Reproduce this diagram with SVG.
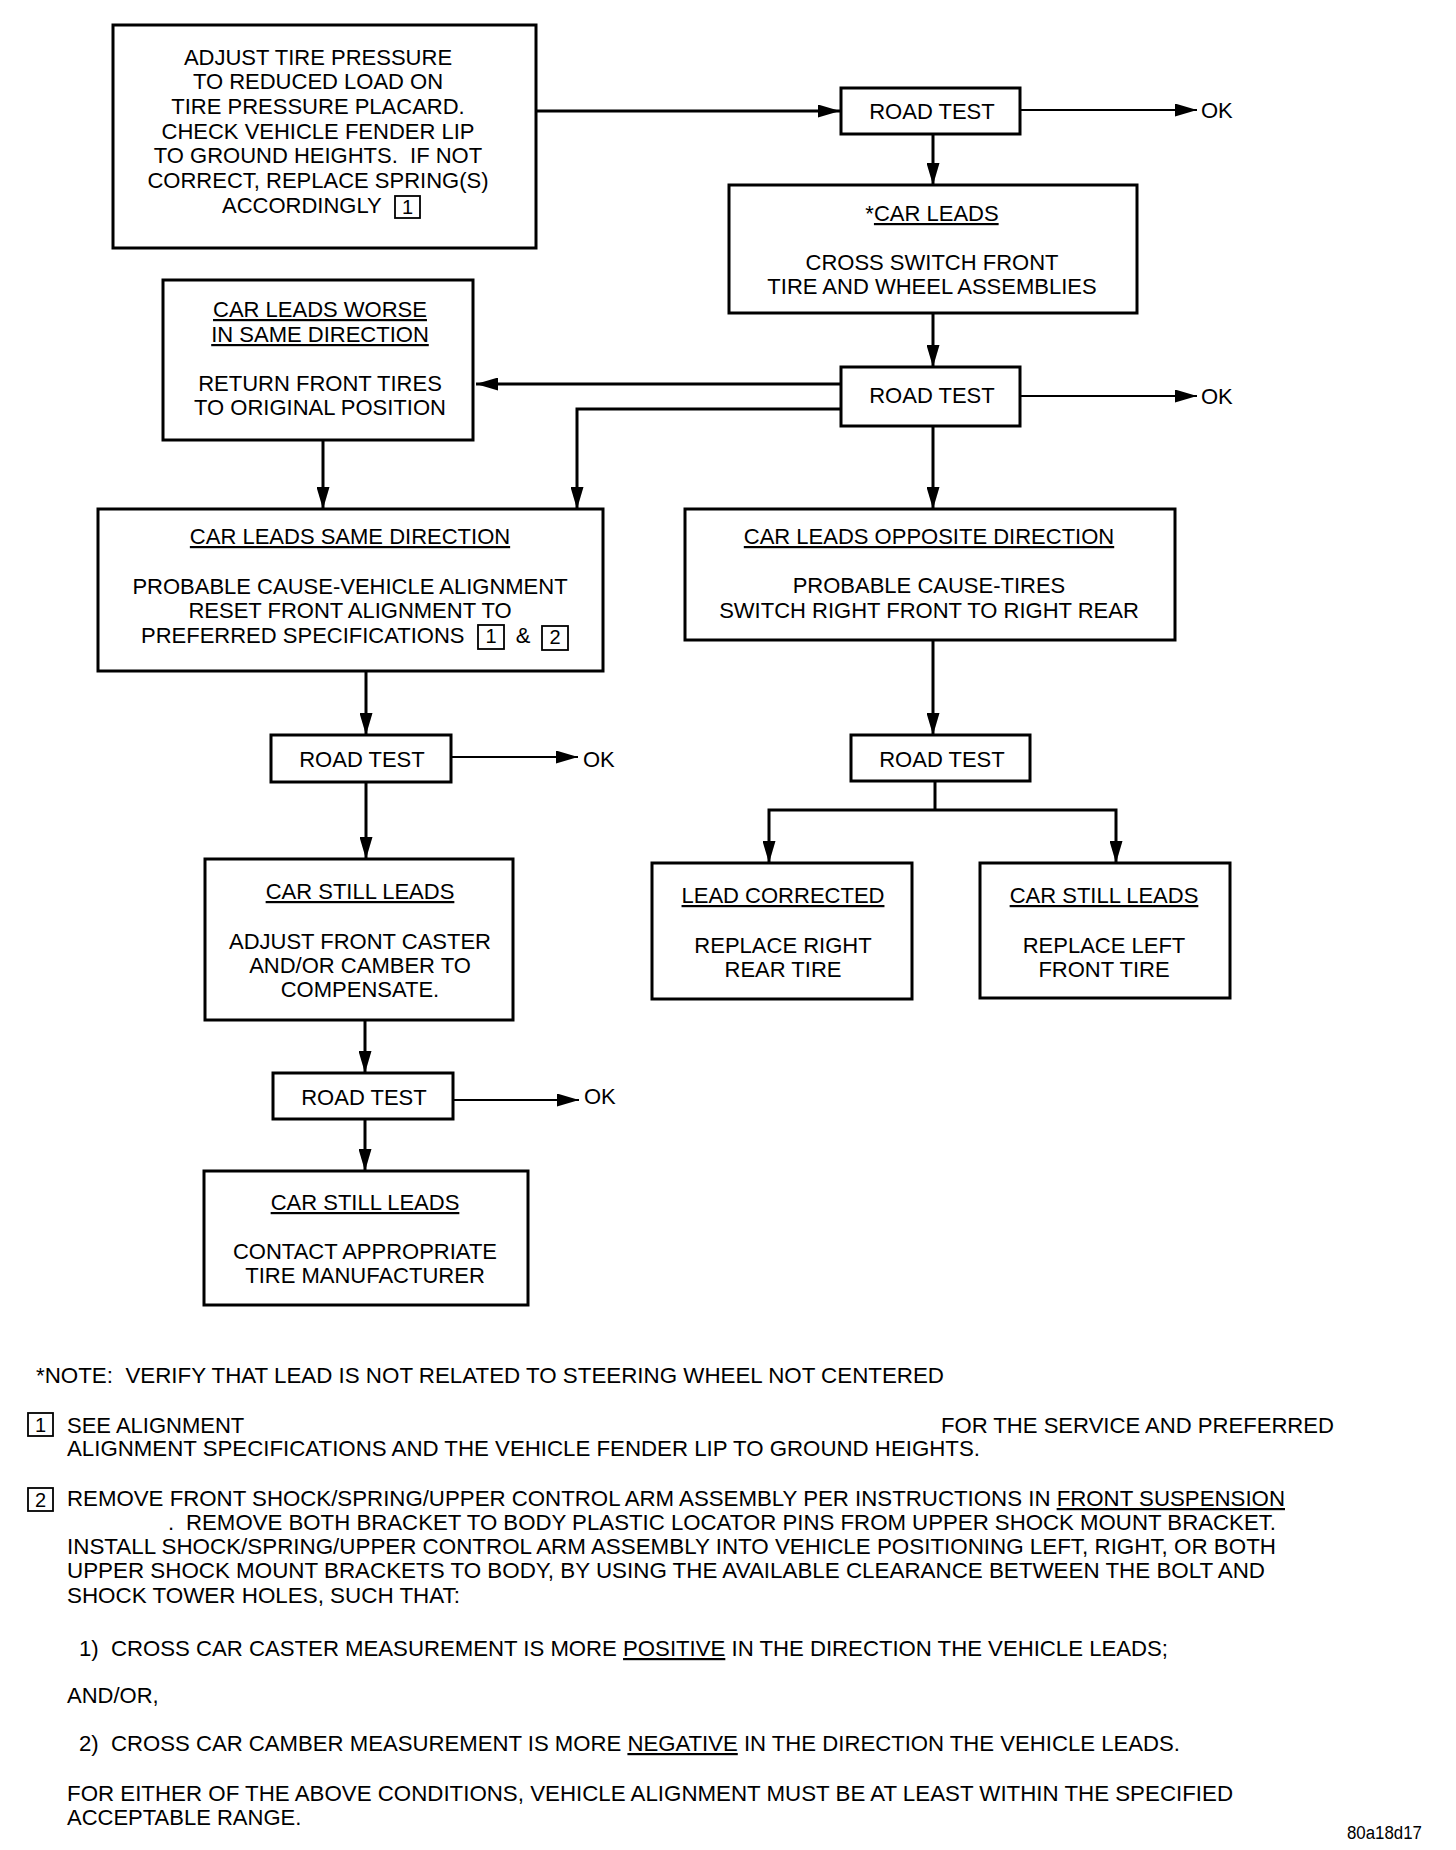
<svg xmlns="http://www.w3.org/2000/svg" width="1456" height="1850" viewBox="0 0 1456 1850">
<style>
  text { font-family: "Liberation Sans", Arial, Helvetica, sans-serif; font-size: 22px; fill: #000; }
  .c { text-anchor: middle; }
  .u { text-decoration: underline; }
  .box { fill: #fff; stroke: #000; stroke-width: 3; }
  .ref { fill: none; stroke: #000; stroke-width: 1.8; }
  .dig { font-size: 20px; text-anchor: middle; }
  .con { fill: none; stroke: #000; stroke-width: 3; marker-end: url(#ah); }
  .con2 { fill: none; stroke: #000; stroke-width: 2.2; marker-end: url(#ah); }
  .ln { fill: none; stroke: #000; stroke-width: 3; }
  .tag { font-size: 18px; }
</style>
<defs>
  <marker id="ah" markerUnits="userSpaceOnUse" markerWidth="22" markerHeight="13" refX="22" refY="6.5" orient="auto">
    <path d="M0,0 L22,6.5 L0,13 Z" fill="#000"/>
  </marker>
</defs>
<rect x="0" y="0" width="1456" height="1850" fill="#fff"/>

<g id="connectors">
  <path class="con" d="M536,111 H840"/>
  <path class="con2" d="M1020,110 H1197"/>
  <path class="con" d="M933,134 V185"/>
  <path class="con" d="M933,313 V367"/>
  <path class="con2" d="M1020,396 H1197"/>
  <path class="con" d="M841,384 H476"/>
  <path class="con" d="M841,409 H577 V509"/>
  <path class="con" d="M323,440 V509"/>
  <path class="con" d="M933,426 V509"/>
  <path class="con" d="M366,671 V735"/>
  <path class="con2" d="M451,757 H578"/>
  <path class="con" d="M366,782 V859"/>
  <path class="con" d="M365,1020 V1073"/>
  <path class="con2" d="M453,1100 H579"/>
  <path class="con" d="M365,1119 V1171"/>
  <path class="con" d="M933,640 V735"/>
  <path class="ln" d="M935,781 V810"/>
  <path class="con" d="M935,810 H769 V863"/>
  <path class="con" d="M935,810 H1116 V863"/>
</g>

<g id="node-adjust">
  <rect class="box" x="113" y="25" width="423" height="223"/>
  <text class="c" x="318" y="65">ADJUST TIRE PRESSURE</text>
  <text class="c" x="318" y="89">TO REDUCED LOAD ON</text>
  <text class="c" x="318" y="114">TIRE PRESSURE PLACARD.</text>
  <text class="c" x="318" y="139">CHECK VEHICLE FENDER LIP</text>
  <text class="c" x="318" y="163" xml:space="preserve">TO GROUND HEIGHTS.  IF NOT</text>
  <text class="c" x="318" y="188">CORRECT, REPLACE SPRING(S)</text>
  <text x="222" y="213">ACCORDINGLY</text>
  <rect class="ref" x="395" y="196" width="25" height="22"/>
  <text class="dig" x="407.5" y="214">1</text>
</g>

<g id="node-roadtest1">
  <rect class="box" x="841" y="88" width="179" height="46"/>
  <text class="c" x="932" y="119">ROAD TEST</text>
  <text x="1201" y="118">OK</text>
</g>

<g id="node-carleads">
  <rect class="box" x="729" y="185" width="408" height="128"/>
  <text class="c" x="932" y="221">*<tspan class="u">CAR LEADS</tspan></text>
  <text class="c" x="932" y="270">CROSS SWITCH FRONT</text>
  <text class="c" x="932" y="294">TIRE AND WHEEL ASSEMBLIES</text>
</g>

<g id="node-roadtest2">
  <rect class="box" x="841" y="367" width="179" height="59"/>
  <text class="c" x="932" y="403">ROAD TEST</text>
  <text x="1201" y="404">OK</text>
</g>

<g id="node-worse">
  <rect class="box" x="163" y="280" width="310" height="160"/>
  <text class="c u" x="320" y="317">CAR LEADS WORSE</text>
  <text class="c u" x="320" y="342">IN SAME DIRECTION</text>
  <text class="c" x="320" y="391">RETURN FRONT TIRES</text>
  <text class="c" x="320" y="415">TO ORIGINAL POSITION</text>
</g>

<g id="node-same">
  <rect class="box" x="98" y="509" width="505" height="162"/>
  <text class="c u" x="350" y="544">CAR LEADS SAME DIRECTION</text>
  <text class="c" x="350" y="594">PROBABLE CAUSE-VEHICLE ALIGNMENT</text>
  <text class="c" x="350" y="618">RESET FRONT ALIGNMENT TO</text>
  <text x="141" y="643">PREFERRED SPECIFICATIONS</text>
  <rect class="ref" x="478" y="625" width="26" height="24"/>
  <text class="dig" x="491" y="643">1</text>
  <text class="c" x="523" y="643">&amp;</text>
  <rect class="ref" x="542" y="626" width="26" height="24"/>
  <text class="dig" x="555" y="644">2</text>
</g>

<g id="node-opposite">
  <rect class="box" x="685" y="509" width="490" height="131"/>
  <text class="c u" x="929" y="544">CAR LEADS OPPOSITE DIRECTION</text>
  <text class="c" x="929" y="593">PROBABLE CAUSE-TIRES</text>
  <text class="c" x="929" y="618">SWITCH RIGHT FRONT TO RIGHT REAR</text>
</g>

<g id="node-roadtest3">
  <rect class="box" x="271" y="735" width="180" height="47"/>
  <text class="c" x="362" y="767">ROAD TEST</text>
  <text x="583" y="767">OK</text>
</g>

<g id="node-roadtest5">
  <rect class="box" x="851" y="735" width="179" height="46"/>
  <text class="c" x="942" y="767">ROAD TEST</text>
</g>

<g id="node-caster">
  <rect class="box" x="205" y="859" width="308" height="161"/>
  <text class="c u" x="360" y="899">CAR STILL LEADS</text>
  <text class="c" x="360" y="949">ADJUST FRONT CASTER</text>
  <text class="c" x="360" y="973">AND/OR CAMBER TO</text>
  <text class="c" x="360" y="997">COMPENSATE.</text>
</g>

<g id="node-corrected">
  <rect class="box" x="652" y="863" width="260" height="136"/>
  <text class="c u" x="783" y="903">LEAD CORRECTED</text>
  <text class="c" x="783" y="953">REPLACE RIGHT</text>
  <text class="c" x="783" y="977">REAR TIRE</text>
</g>

<g id="node-leftfront">
  <rect class="box" x="980" y="863" width="250" height="135"/>
  <text class="c u" x="1104" y="903">CAR STILL LEADS</text>
  <text class="c" x="1104" y="953">REPLACE LEFT</text>
  <text class="c" x="1104" y="977">FRONT TIRE</text>
</g>

<g id="node-roadtest4">
  <rect class="box" x="273" y="1073" width="180" height="46"/>
  <text class="c" x="364" y="1105">ROAD TEST</text>
  <text x="584" y="1104">OK</text>
</g>

<g id="node-manufacturer">
  <rect class="box" x="204" y="1171" width="324" height="134"/>
  <text class="c u" x="365" y="1210">CAR STILL LEADS</text>
  <text class="c" x="365" y="1259">CONTACT APPROPRIATE</text>
  <text class="c" x="365" y="1283">TIRE MANUFACTURER</text>
</g>

<g id="notes">
  <text x="36" y="1383" xml:space="preserve" textLength="908" lengthAdjust="spacingAndGlyphs">*NOTE:  VERIFY THAT LEAD IS NOT RELATED TO STEERING WHEEL NOT CENTERED</text>
  <rect class="ref" x="28" y="1413" width="25" height="23"/>
  <text class="dig" x="40.5" y="1432">1</text>
  <text x="67" y="1433">SEE ALIGNMENT</text>
  <text x="941" y="1433" textLength="393" lengthAdjust="spacingAndGlyphs">FOR THE SERVICE AND PREFERRED</text>
  <text x="67" y="1456" textLength="913" lengthAdjust="spacingAndGlyphs">ALIGNMENT SPECIFICATIONS AND THE VEHICLE FENDER LIP TO GROUND HEIGHTS.</text>
  <rect class="ref" x="28" y="1488" width="25" height="23"/>
  <text class="dig" x="40.5" y="1507">2</text>
  <text x="67" y="1506" textLength="1218" lengthAdjust="spacingAndGlyphs">REMOVE FRONT SHOCK/SPRING/UPPER CONTROL ARM ASSEMBLY PER INSTRUCTIONS IN <tspan class="u">FRONT SUSPENSION</tspan></text>
  <text x="168" y="1530">.</text>
  <text x="186" y="1530" textLength="1090" lengthAdjust="spacingAndGlyphs">REMOVE BOTH BRACKET TO BODY PLASTIC LOCATOR PINS FROM UPPER SHOCK MOUNT BRACKET.</text>
  <text x="67" y="1554" textLength="1209" lengthAdjust="spacingAndGlyphs">INSTALL SHOCK/SPRING/UPPER CONTROL ARM ASSEMBLY INTO VEHICLE POSITIONING LEFT, RIGHT, OR BOTH</text>
  <text x="67" y="1578" textLength="1198" lengthAdjust="spacingAndGlyphs">UPPER SHOCK MOUNT BRACKETS TO BODY, BY USING THE AVAILABLE CLEARANCE BETWEEN THE BOLT AND</text>
  <text x="67" y="1603" textLength="393" lengthAdjust="spacingAndGlyphs">SHOCK TOWER HOLES, SUCH THAT:</text>
  <text x="79" y="1656" xml:space="preserve" textLength="1089" lengthAdjust="spacingAndGlyphs">1)  CROSS CAR CASTER MEASUREMENT IS MORE <tspan class="u">POSITIVE</tspan> IN THE DIRECTION THE VEHICLE LEADS;</text>
  <text x="67" y="1703">AND/OR,</text>
  <text x="79" y="1751" xml:space="preserve" textLength="1101" lengthAdjust="spacingAndGlyphs">2)  CROSS CAR CAMBER MEASUREMENT IS MORE <tspan class="u">NEGATIVE</tspan> IN THE DIRECTION THE VEHICLE LEADS.</text>
  <text x="67" y="1801" textLength="1166" lengthAdjust="spacingAndGlyphs">FOR EITHER OF THE ABOVE CONDITIONS, VEHICLE ALIGNMENT MUST BE AT LEAST WITHIN THE SPECIFIED</text>
  <text x="67" y="1825">ACCEPTABLE RANGE.</text>
  <text class="tag" x="1347" y="1839" textLength="75" lengthAdjust="spacingAndGlyphs">80a18d17</text>
</g>
</svg>
